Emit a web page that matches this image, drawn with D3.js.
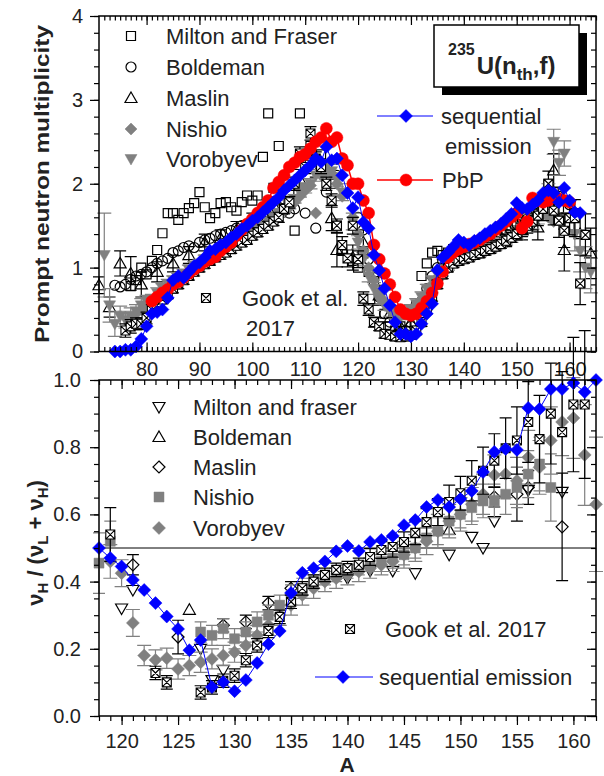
<!DOCTYPE html>
<html>
<head>
<meta charset="utf-8">
<script src="https://cdn.jsdelivr.net/npm/d3@7"></script>
<style>
body { margin:0; background:#fff; }
text { font-family: Arial, "Liberation Sans", sans-serif; }
</style>
</head>
<body>
<div id="chart"></div>
<script>
// ---------- top panel: prompt neutron multiplicity vs A ----------
var topXTicks = [80, 90, 100, 110, 120, 130, 140, 150, 160];
var topYTicks = [0, 1, 2, 3, 4];

var seqTopA = d3.range(74, 163);
var seqTopNu = [
 0.00,0.00,0.02,0.02,0.06,0.15,0.30,0.45,0.47,0.50,
 0.64,0.85,0.90,0.88,0.95,1.02,1.06,1.12,1.20,1.22,
 1.27,1.30,1.36,1.40,1.46,1.50,1.56,1.60,1.66,1.72,
 1.78,1.84,1.92,1.98,2.04,2.10,2.16,2.22,2.30,2.26,
 2.44,2.28,2.30,2.10,1.89,1.71,1.84,1.54,1.47,1.15,
 0.97,0.75,0.55,0.35,0.21,0.21,0.18,0.21,0.33,0.45,
 0.57,0.97,1.12,1.18,1.25,1.33,1.30,1.27,1.32,1.35,
 1.40,1.44,1.48,1.52,1.58,1.64,1.77,1.71,1.70,1.75,
 1.80,1.89,1.92,1.89,1.78,1.95,1.80,1.66,1.65];

var pbpA = d3.range(81, 161);
var pbpNu = [
 0.60,0.65,0.70,0.74,0.80,0.83,0.88,0.93,0.98,1.02,
 1.07,1.10,1.13,1.20,1.25,1.30,1.38,1.45,1.52,1.58,
 1.65,1.72,1.80,1.95,2.02,2.10,2.20,2.25,2.32,2.35,
 2.42,2.50,2.55,2.66,2.50,2.55,2.30,2.22,2.00,2.00,
 1.80,1.65,1.27,1.10,0.93,0.80,0.65,0.50,0.45,0.43,
 0.45,0.52,0.60,0.70,0.81,0.95,1.12,1.18,1.22,1.25,
 1.28,1.30,1.33,1.37,1.40,1.45,1.50,1.55,1.60,1.65,
 1.47,1.55,1.83,1.80,1.78,1.80,1.85,1.82,1.80,1.78];

var miltonTopA = [77,78,79,80,81,82,83,84,85,86,87,88,89,90,91,92,93,94,95,96,97,98,99,100,101,102,103,104,105,
 107,108,109,111,113,115,116,117,
 119,120,121,122,123,124,125,126,127,128,129,130,131,132,133,134,135,136,137,138,139,140,
 141,142,143,144,145,146,147,148,149,150,151,152,153,154,155,156,157,158,159,160,161];
var miltonTopNu = [0.78,0.85,1.00,0.92,1.08,1.21,1.41,1.65,1.65,1.57,1.65,1.71,1.77,1.90,1.72,1.59,1.65,1.77,1.78,1.72,
 1.68,1.78,1.86,1.80,1.86,2.32,2.84,1.95,2.45,
 1.90,1.44,2.84,2.45,2.35,2.00,1.50,1.20,
 1.08,1.00,1.17,0.95,0.84,0.62,0.45,0.30,0.25,0.30,
 0.35,0.45,0.55,0.90,1.05,1.18,1.20,1.15,1.18,1.22,
 1.20,1.25,1.22,1.28,1.30,1.33,1.35,1.38,1.42,1.45,
 1.50,1.55,1.60,1.62,1.68,1.75,1.72,2.00,1.90,1.70,
 1.60,1.50,1.65];

var boldTopA = [74,75,76,77,78,79,80,81,82,83,84,85,86,87,88,89,90,91,92,93,94,95,96,97,98,99,100,101,102,103,104,105,106,107,108,
 110,112,114,116,
 120,121,122,123,124,125,126,127,128,129,130,131,132,133,134,135,136,137,138,139,140,
 142,144,146,148,150,152,154,156,158,160];
var boldTopNu = [0.79,0.77,0.80,0.86,0.90,0.92,0.95,1.00,1.05,1.08,1.11,1.18,1.20,1.24,1.26,1.24,1.30,1.33,1.35,1.38,
 1.40,1.42,1.44,1.47,1.50,1.52,1.55,1.58,1.62,1.66,1.70,1.72,1.68,1.65,1.70,
 1.65,1.47,1.90,2.10,
 1.60,1.45,1.10,0.88,0.65,0.45,0.35,0.25,0.22,0.25,0.30,0.45,0.60,0.75,0.90,1.00,1.08,1.15,1.18,1.22,1.25,
 1.28,1.32,1.38,1.45,1.52,1.58,1.65,1.75,1.85,1.75];

var maslinTopA = [71,73,75,77,79,82,85,88,91,94,97,100,103,106,109,112,115,116,
 119,121,124,126,128,130,133,136,139,142,145,148,151,154,157,159,162,164];
var maslinTopNu = [0.79,0.53,1.05,0.93,0.80,0.95,1.05,1.15,1.30,1.35,1.45,1.55,1.65,1.80,2.05,2.20,1.59,1.21,
 1.12,1.30,0.67,0.45,0.30,0.35,0.60,1.00,1.15,1.22,1.28,1.35,1.45,1.48,2.16,1.21,1.40,1.17];
var maslinTopErr = [0.10,0.12,0.15,0.20,0.15,0.12,0.10,0.10,0.10,0.10,0.10,0.10,0.10,0.12,0.12,0.12,0.15,0.20,
 0.15,0.15,0.12,0.10,0.10,0.10,0.10,0.10,0.10,0.10,0.10,0.10,0.12,0.15,0.20,0.25,0.25,0.30];

var nishioTopA = d3.range(78, 118).concat(d3.range(119, 159));
var nishioTopNu = [
 0.45,0.50,0.55,0.60,0.65,0.70,0.75,0.80,0.85,0.90,
 0.95,1.00,1.02,1.05,1.10,1.12,1.15,1.20,1.24,1.28,
 1.32,1.37,1.40,1.45,1.50,1.52,1.58,1.62,1.68,1.72,
 1.78,1.85,1.92,1.98,1.65,2.10,2.15,2.12,2.00,1.85,
 1.60,1.40,1.20,1.00,0.85,0.70,0.60,0.50,0.45,0.42,
 0.45,0.50,0.55,0.62,0.70,0.80,0.88,0.95,1.00,1.05,
 1.08,1.10,1.12,1.15,1.17,1.20,1.22,1.25,1.28,1.32,
 1.36,1.40,1.45,1.50,1.55,1.60,1.65,1.60,1.55,1.60];

var vorTopA = d3.range(72, 118).concat(d3.range(119, 165));
var vorTopNu = [
 1.15,0.55,0.33,0.42,0.38,0.42,0.48,0.55,0.60,0.62,
 0.70,0.75,0.80,0.85,0.88,0.93,0.98,1.02,1.05,1.10,
 1.13,1.15,1.20,1.22,1.27,1.30,1.35,1.38,1.42,1.47,
 1.50,1.55,1.60,1.65,1.70,1.75,1.82,1.90,1.95,2.00,
 2.10,2.15,2.20,2.15,2.05,1.90,
 1.55,1.30,1.10,0.90,0.75,0.62,0.55,0.48,0.45,0.44,
 0.45,0.50,0.57,0.65,0.75,0.85,0.92,0.98,1.02,1.06,
 1.10,1.12,1.14,1.16,1.18,1.20,1.23,1.26,1.29,1.32,
 1.36,1.40,1.45,1.50,1.55,1.62,1.70,1.85,2.50,2.25,
 2.36,1.60,1.40,1.20,1.00,0.95];
var vorTopErr = [
 0.50,0.20,0.15,0.12,0.10,0.10,0.08,0.08,0.07,0.06,
 0.06,0.06,0.06,0.05,0.05,0.05,0.05,0.05,0.05,0.05,
 0.05,0.05,0.05,0.05,0.05,0.05,0.05,0.05,0.05,0.05,
 0.05,0.05,0.05,0.05,0.05,0.05,0.05,0.06,0.06,0.06,
 0.07,0.07,0.08,0.08,0.08,0.10,
 0.10,0.08,0.08,0.07,0.07,0.06,0.06,0.06,0.06,0.06,
 0.06,0.06,0.06,0.06,0.05,0.05,0.05,0.05,0.05,0.05,
 0.05,0.05,0.05,0.05,0.05,0.05,0.05,0.05,0.05,0.05,
 0.06,0.06,0.07,0.08,0.09,0.10,0.12,0.15,0.15,0.15,
 0.15,0.20,0.20,0.25,0.25,0.25];

var gookTopA = d3.range(76, 119).concat(d3.range(119, 164));
var gookTopNu = [
 0.25,0.30,0.33,0.33,0.40,0.50,0.55,0.62,0.68,0.75,
 0.80,0.85,0.90,0.95,1.00,1.04,1.08,1.12,1.15,1.18,
 1.22,1.26,1.30,1.33,1.38,1.42,1.46,1.50,1.55,1.60,
 1.70,1.78,2.00,2.36,2.20,2.60,2.30,2.20,2.00,1.80,
 1.50,1.27,1.11,
 1.50,1.10,0.63,0.50,0.35,0.30,0.21,0.20,0.18,0.17,
 0.18,0.20,0.25,0.35,0.50,0.65,0.80,0.92,1.00,1.05,
 1.08,1.10,1.12,1.15,1.17,1.20,1.22,1.25,1.28,1.32,
 1.36,1.40,1.45,1.50,1.55,1.62,1.70,2.00,1.68,1.56,
 1.44,1.59,1.59,0.81,1.39];
var gookTopErr = [
 0.08,0.08,0.07,0.07,0.07,0.06,0.06,0.05,0.05,0.05,
 0.05,0.05,0.05,0.05,0.05,0.05,0.05,0.05,0.05,0.05,
 0.05,0.05,0.05,0.05,0.05,0.05,0.05,0.05,0.05,0.06,
 0.06,0.07,0.08,0.08,0.08,0.08,0.08,0.08,0.08,0.08,
 0.08,0.10,0.10,
 0.10,0.10,0.08,0.07,0.06,0.05,0.05,0.05,0.05,0.05,
 0.05,0.05,0.05,0.05,0.05,0.05,0.05,0.05,0.05,0.05,
 0.05,0.05,0.05,0.05,0.05,0.05,0.05,0.05,0.05,0.06,
 0.06,0.07,0.08,0.09,0.10,0.12,0.14,0.15,0.17,0.20,
 0.20,0.20,0.22,0.25,0.25];

// ---------- bottom panel: nu_H / (nu_L + nu_H) vs A ----------
var botXTicks = [120, 125, 130, 135, 140, 145, 150, 155, 160];
var botYTicks = [0, 0.2, 0.4, 0.6, 0.8, 1.0];

var seqBotA = d3.range(118, 163);
var seqBotR = [
 0.50,0.47,0.445,0.405,0.375,0.336,0.296,0.259,0.196,0.226,
 0.086,0.101,0.074,0.107,0.158,0.214,0.253,0.366,0.426,0.44,
 0.46,0.49,0.506,0.491,0.518,0.524,0.536,0.568,0.583,0.622,
 0.643,0.622,0.646,0.67,0.726,0.786,0.795,0.792,0.917,0.914,
 0.973,0.973,0.991,0.964,1.0];

var gookBotA = [119, 123, 124].concat(d3.range(127, 162));
var gookBotR = [0.54,0.128,0.10,
 0.07,0.085,0.105,0.12,0.166,0.21,0.253,0.295,0.34,0.38,
 0.40,0.42,0.435,0.44,0.45,0.473,0.494,0.503,0.518,0.545,
 0.577,0.607,0.637,0.663,0.70,0.73,0.76,0.797,0.82,0.875,
 0.824,0.90,0.845,0.927,0.927];
var gookBotErr = [0.08,0.02,0.02,
 0.02,0.02,0.02,0.02,0.02,0.02,0.02,0.02,0.02,0.02,
 0.02,0.02,0.02,0.02,0.02,0.025,0.025,0.03,0.03,0.035,
 0.04,0.04,0.05,0.05,0.06,0.07,0.08,0.09,0.10,0.12,
 0.13,0.15,0.18,0.20,0.22];

var miltonBotA = [120,121,127,128,129,140,142,144,146,149,151,152,153,156,159];
var miltonBotR = [0.32,0.375,0.20,0.107,0.137,0.41,0.432,0.432,0.425,0.48,0.533,0.50,0.58,0.672,0.667];

var boldBotA = [126, 149];
var boldBotR = [0.316, 0.554];

var maslinBotA = [121,125,129,131,133,135,153,155,156,159];
var maslinBotR = [0.45,0.235,0.27,0.28,0.336,0.38,0.652,0.66,0.68,0.563];
var maslinBotErr = [0.03,0.05,0.02,0.02,0.02,0.02,0.03,0.08,0.05,0.16];

var nishioBotA = [118, 119].concat(d3.range(127, 159));
var nishioBotR = [0.455,0.52,
 0.25,0.24,0.26,0.23,0.25,0.28,0.30,0.33,0.36,0.38,
 0.40,0.41,0.42,0.43,0.44,0.45,0.46,0.47,0.48,0.50,
 0.53,0.55,0.58,0.60,0.62,0.64,0.64,0.66,0.68,0.72,
 0.75,0.68];
var nishioBotErr = [0.09,0.06,
 0.03,0.03,0.03,0.03,0.03,0.03,0.03,0.03,0.03,0.03,
 0.02,0.02,0.02,0.02,0.02,0.02,0.03,0.03,0.03,0.03,
 0.03,0.04,0.04,0.04,0.05,0.05,0.05,0.06,0.06,0.07,
 0.08,0.10];

var vorBotA = d3.range(119, 163);
var vorBotR = [
 0.46,0.425,0.277,0.18,0.167,0.172,0.14,0.15,0.16,0.17,
 0.18,0.19,0.21,0.24,0.27,0.30,0.33,0.36,0.38,0.40,
 0.41,0.42,0.43,0.44,0.45,0.46,0.48,0.50,0.52,0.55,
 0.58,0.60,0.63,0.66,0.717,0.72,0.70,0.77,0.74,0.82,
 0.875,0.887,0.777,0.63];
var vorBotErr = [
 0.05,0.04,0.04,0.03,0.03,0.03,0.03,0.03,0.03,0.03,
 0.03,0.03,0.03,0.03,0.03,0.03,0.03,0.03,0.03,0.03,
 0.03,0.03,0.03,0.03,0.03,0.03,0.04,0.04,0.04,0.05,
 0.05,0.05,0.05,0.06,0.06,0.07,0.07,0.08,0.08,0.10,
 0.10,0.12,0.15,0.20];

// ---------- drawing ----------
var grey = "#808080", blue = "#0000ff", red = "#ff0000", ink = "#222";

var svg = d3.select("#chart").append("svg")
  .attr("width", 604).attr("height", 776);

var xTop = d3.scaleLinear().domain([71, 165]).range([99, 596]);
var yTop = d3.scaleLinear().domain([0, 4]).range([351.5, 16]);
var xBot = d3.scaleLinear().domain([118, 162]).range([99, 596]);
var yBot = d3.scaleLinear().domain([0, 1]).range([716, 380]);

function shape(type, s) {
  var h = s / 2;
  if (type == "square") return "M" + (-h) + "," + (-h) + "H" + h + "V" + h + "H" + (-h) + "Z";
  if (type == "xsquare") return "M" + (-h) + "," + (-h) + "H" + h + "V" + h + "H" + (-h) + "Z" +
    "M" + (-h) + "," + (-h) + "L" + h + "," + h + "M" + h + "," + (-h) + "L" + (-h) + "," + h;
  if (type == "diamond") return "M0," + (-h) + "L" + h + ",0L0," + h + "L" + (-h) + ",0Z";
  if (type == "up") return "M0," + (-h) + "L" + h + "," + (h * 0.75) + "L" + (-h) + "," + (h * 0.75) + "Z";
  if (type == "down") return "M0," + h + "L" + h + "," + (-h * 0.75) + "L" + (-h) + "," + (-h * 0.75) + "Z";
  // circle
  return "M" + h + ",0A" + h + "," + h + " 0 1,1 " + (-h) + ",0A" + h + "," + h + " 0 1,1 " + h + ",0Z";
}

function series(g, x, y, A, V, E, st) {
  var pts = A.map(function(a, i) { return {a: a, v: V[i], e: E ? E[i] : 0}; });
  if (st.line) {
    g.append("path").datum(pts)
      .attr("d", d3.line().x(function(d) { return x(d.a); }).y(function(d) { return y(d.v); }))
      .attr("fill", "none").attr("stroke", st.line).attr("stroke-width", st.lw || 1);
  }
  if (E) {
    var c = st.cap || 6;
    g.append("g").selectAll("path").data(pts).join("path")
      .attr("d", function(d) {
        var cx = x(d.a), y1 = y(d.v + d.e), y2 = y(d.v - d.e);
        return "M" + cx + "," + y1 + "V" + y2 + "M" + (cx - c) + "," + y1 + "H" + (cx + c) +
               "M" + (cx - c) + "," + y2 + "H" + (cx + c);
      })
      .attr("fill", "none").attr("stroke", st.err).attr("stroke-width", 1.2);
  }
  g.append("g").selectAll("path").data(pts).join("path")
    .attr("transform", function(d) { return "translate(" + x(d.a) + "," + y(d.v) + ")"; })
    .attr("d", shape(st.shape, st.size))
    .attr("fill", st.fill).attr("stroke", st.stroke)
    .attr("stroke-width", st.sw || 1.2);
}

function legendMark(g, px, py, st) {
  g.append("path").attr("transform", "translate(" + px + "," + py + ")")
    .attr("d", shape(st.shape, st.size))
    .attr("fill", st.fill).attr("stroke", st.stroke).attr("stroke-width", st.sw || 1.2);
}
function label(g, px, py, s, size) {
  return g.append("text").attr("x", px).attr("y", py).attr("dy", "0.35em")
    .attr("font-size", size || 22).attr("fill", ink).text(s);
}

function styleAxis(a) {
  a.select(".domain").remove();
  a.selectAll("line").attr("stroke", "#000").attr("stroke-width", 1.2);
  a.selectAll("text").attr("font-size", 20).attr("fill", ink)
    .attr("font-family", "Arial, 'Liberation Sans', sans-serif");
}

// styles
var stMiltonT = {shape: "square", size: 9, fill: "none", stroke: "#000"};
var stBoldT = {shape: "circle", size: 10, fill: "none", stroke: "#000"};
var stMaslinT = {shape: "up", size: 12, fill: "none", stroke: "#000", err: "#000", cap: 6};
var stNishioT = {shape: "diamond", size: 12, fill: grey, stroke: grey, sw: 0.5};
var stVorT = {shape: "down", size: 12, fill: grey, stroke: grey, sw: 0.5, err: grey, cap: 7};
var stGook = {shape: "xsquare", size: 9, fill: "#fff", stroke: "#000", sw: 1.1, err: "#000", cap: 6};
var stPbp = {shape: "circle", size: 12, fill: red, stroke: red, sw: 0.5, line: red, lw: 1.5};
var stSeq = {shape: "diamond", size: 13, fill: blue, stroke: blue, sw: 0.5, line: blue, lw: 1};

var stMiltonB = {shape: "down", size: 12, fill: "none", stroke: "#000"};
var stBoldB = {shape: "up", size: 12, fill: "none", stroke: "#000"};
var stMaslinB = {shape: "diamond", size: 12, fill: "none", stroke: "#000", err: "#000", cap: 6};
var stNishioB = {shape: "square", size: 10, fill: grey, stroke: grey, sw: 0.5, err: grey, cap: 6};
var stVorB = {shape: "diamond", size: 13, fill: grey, stroke: grey, sw: 0.5, err: grey, cap: 7};

// ----- top panel -----
var gt = svg.append("g");
series(gt, xTop, yTop, miltonTopA, miltonTopNu, null, stMiltonT);
series(gt, xTop, yTop, boldTopA, boldTopNu, null, stBoldT);
series(gt, xTop, yTop, maslinTopA, maslinTopNu, maslinTopErr, stMaslinT);
series(gt, xTop, yTop, vorTopA, vorTopNu, vorTopErr, stVorT);
series(gt, xTop, yTop, nishioTopA, nishioTopNu, null, stNishioT);
series(gt, xTop, yTop, gookTopA, gookTopNu, gookTopErr, stGook);
series(gt, xTop, yTop, pbpA, pbpNu, null, stPbp);
series(gt, xTop, yTop, seqTopA, seqTopNu, null, stSeq);

// axes top panel
gt.append("g").attr("transform", "translate(0," + yTop(0) + ")")
  .call(d3.axisBottom(xTop).tickValues(d3.range(72, 166)).tickSize(-4.5).tickSizeOuter(0).tickFormat(""))
  .call(styleAxis);
gt.append("g").attr("transform", "translate(0," + yTop(0) + ")")
  .call(d3.axisBottom(xTop).tickValues(topXTicks).tickSize(-9).tickPadding(10).tickSizeOuter(0))
  .call(styleAxis);
gt.append("g").attr("transform", "translate(0," + yTop(4) + ")")
  .call(d3.axisTop(xTop).tickValues(d3.range(72, 166)).tickSize(-4.5).tickSizeOuter(0).tickFormat(""))
  .call(styleAxis);
gt.append("g").attr("transform", "translate(0," + yTop(4) + ")")
  .call(d3.axisTop(xTop).tickValues(topXTicks).tickSize(-9).tickSizeOuter(0).tickFormat(""))
  .call(styleAxis);
gt.append("g").attr("transform", "translate(99,0)")
  .call(d3.axisLeft(yTop).tickValues(d3.range(0, 4.01, 0.2)).tickSize(5).tickSizeOuter(0).tickFormat(""))
  .call(styleAxis);
gt.append("g").attr("transform", "translate(99,0)")
  .call(d3.axisLeft(yTop).tickValues(topYTicks).tickSize(9).tickPadding(7).tickSizeOuter(0).tickFormat(d3.format("d")))
  .call(styleAxis);
gt.append("g").attr("transform", "translate(596,0)")
  .call(d3.axisRight(yTop).tickValues(d3.range(0, 4.01, 0.2)).tickSize(-5).tickSizeOuter(0).tickFormat(""))
  .call(styleAxis);
gt.append("g").attr("transform", "translate(596,0)")
  .call(d3.axisRight(yTop).tickValues(topYTicks).tickSize(-9).tickSizeOuter(0).tickFormat(""))
  .call(styleAxis);
gt.append("rect").attr("x", 99).attr("y", yTop(4)).attr("width", 497).attr("height", yTop(0) - yTop(4))
  .attr("fill", "none").attr("stroke", "#000").attr("stroke-width", 1.5);

gt.append("text").attr("transform", "translate(49,184) rotate(-90)")
  .attr("text-anchor", "middle").attr("font-size", 21).attr("font-weight", "bold").attr("fill", ink)
  .attr("textLength", 318).attr("lengthAdjust", "spacingAndGlyphs")
  .text("Prompt neutron multiplicity");

// legend top-left
var legTop = [["Milton and Fraser", stMiltonT], ["Boldeman", stBoldT], ["Maslin", stMaslinT],
              ["Nishio", stNishioT], ["Vorobyev", stVorT]];
var legTopY = [36, 67, 98, 129, 159];
legTop.forEach(function(d, i) {
  legendMark(gt, 131, legTopY[i], d[1]);
  label(gt, 166, legTopY[i], d[0]);
});

// sequential / PbP legend
gt.append("line").attr("x1", 377).attr("x2", 433).attr("y1", 116).attr("y2", 116).attr("stroke", blue).attr("stroke-width", 1);
legendMark(gt, 406, 116, stSeq);
label(gt, 441, 116, "sequential");
label(gt, 445, 146, "emission");
gt.append("line").attr("x1", 377).attr("x2", 433).attr("y1", 180).attr("y2", 180).attr("stroke", red).attr("stroke-width", 1.5);
legendMark(gt, 406, 180, stPbp);
label(gt, 442, 180, "PbP");

// Gook legend in top panel
legendMark(gt, 206, 298, stGook);
label(gt, 242, 298, "Gook et al.");
label(gt, 246, 328, "2017");

// reaction box
gt.append("rect").attr("x", 442).attr("y", 33).attr("width", 145).attr("height", 62).attr("fill", "#000");
gt.append("rect").attr("x", 434).attr("y", 25).attr("width", 145).attr("height", 62)
  .attr("fill", "#fff").attr("stroke", "#000").attr("stroke-width", 1.5);
var rt = gt.append("text").attr("x", 448).attr("y", 74).attr("font-weight", "bold").attr("fill", ink);
rt.append("tspan").attr("font-size", 16).attr("dy", -19).text("235");
rt.append("tspan").attr("font-size", 24).attr("dx", 2).attr("dy", 19).text("U(n");
rt.append("tspan").attr("font-size", 17).attr("dy", 6).text("th");
rt.append("tspan").attr("font-size", 24).attr("dy", -6).text(",f)");

// ----- bottom panel -----
var gb = svg.append("g");
gb.append("line").attr("x1", 99).attr("x2", 596).attr("y1", yBot(0.5)).attr("y2", yBot(0.5))
  .attr("stroke", "#000").attr("stroke-width", 1);
series(gb, xBot, yBot, miltonBotA, miltonBotR, null, stMiltonB);
series(gb, xBot, yBot, boldBotA, boldBotR, null, stBoldB);
series(gb, xBot, yBot, maslinBotA, maslinBotR, maslinBotErr, stMaslinB);
series(gb, xBot, yBot, nishioBotA, nishioBotR, nishioBotErr, stNishioB);
series(gb, xBot, yBot, vorBotA, vorBotR, vorBotErr, stVorB);
series(gb, xBot, yBot, gookBotA, gookBotR, gookBotErr, stGook);
series(gb, xBot, yBot, seqBotA, seqBotR, null, stSeq);

gb.append("g").attr("transform", "translate(0," + yBot(0) + ")")
  .call(d3.axisBottom(xBot).tickValues(d3.range(118, 163)).tickSize(5).tickSizeOuter(0).tickFormat(""))
  .call(styleAxis);
gb.append("g").attr("transform", "translate(0," + yBot(0) + ")")
  .call(d3.axisBottom(xBot).tickValues(botXTicks).tickSize(9).tickPadding(9).tickSizeOuter(0))
  .call(styleAxis);
gb.append("g").attr("transform", "translate(0," + yBot(1) + ")")
  .call(d3.axisTop(xBot).tickValues(d3.range(118, 163)).tickSize(-5).tickSizeOuter(0).tickFormat(""))
  .call(styleAxis);
gb.append("g").attr("transform", "translate(0," + yBot(1) + ")")
  .call(d3.axisTop(xBot).tickValues(botXTicks).tickSize(-9).tickSizeOuter(0).tickFormat(""))
  .call(styleAxis);
gb.append("g").attr("transform", "translate(99,0)")
  .call(d3.axisLeft(yBot).tickValues(d3.range(0, 1.001, 0.05)).tickSize(5).tickSizeOuter(0).tickFormat(""))
  .call(styleAxis);
gb.append("g").attr("transform", "translate(99,0)")
  .call(d3.axisLeft(yBot).tickValues(botYTicks).tickSize(9).tickPadding(9).tickSizeOuter(0).tickFormat(d3.format(".1f")))
  .call(styleAxis);
gb.append("g").attr("transform", "translate(596,0)")
  .call(d3.axisRight(yBot).tickValues(d3.range(0, 1.001, 0.05)).tickSize(-5).tickSizeOuter(0).tickFormat(""))
  .call(styleAxis);
gb.append("g").attr("transform", "translate(596,0)")
  .call(d3.axisRight(yBot).tickValues(botYTicks).tickSize(-9).tickSizeOuter(0).tickFormat(""))
  .call(styleAxis);
gb.append("rect").attr("x", 99).attr("y", yBot(1)).attr("width", 497).attr("height", yBot(0) - yBot(1))
  .attr("fill", "none").attr("stroke", "#000").attr("stroke-width", 1.5);

gb.append("text").attr("x", 347).attr("y", 772).attr("text-anchor", "middle")
  .attr("font-size", 21).attr("font-weight", "bold").attr("fill", ink).text("A");

var yt = gb.append("text").attr("transform", "translate(43,543) rotate(-90)")
  .attr("text-anchor", "middle").attr("font-size", 22).attr("font-weight", "bold").attr("fill", ink);
yt.append("tspan").text("\u03bd");
yt.append("tspan").attr("font-size", 15).attr("dy", 5).text("H");
yt.append("tspan").attr("dy", -5).text(" / (\u03bd");
yt.append("tspan").attr("font-size", 15).attr("dy", 5).text("L");
yt.append("tspan").attr("dy", -5).text(" + \u03bd");
yt.append("tspan").attr("font-size", 15).attr("dy", 5).text("H");
yt.append("tspan").attr("dy", -5).text(")");

var legBot = [["Milton and fraser", stMiltonB], ["Boldeman", stBoldB], ["Maslin", stMaslinB],
              ["Nishio", stNishioB], ["Vorobyev", stVorB]];
var legBotY = [407, 437, 467, 497, 528];
legBot.forEach(function(d, i) {
  legendMark(gb, 159, legBotY[i], d[1]);
  label(gb, 193, legBotY[i], d[0]);
});

legendMark(gb, 350, 629, stGook);
label(gb, 385, 629, "Gook et al. 2017");
gb.append("line").attr("x1", 315).attr("x2", 373).attr("y1", 677).attr("y2", 677).attr("stroke", blue).attr("stroke-width", 1);
legendMark(gb, 343, 677, stSeq);
label(gb, 379, 677, "sequential emission");
</script>
</body>
</html>
